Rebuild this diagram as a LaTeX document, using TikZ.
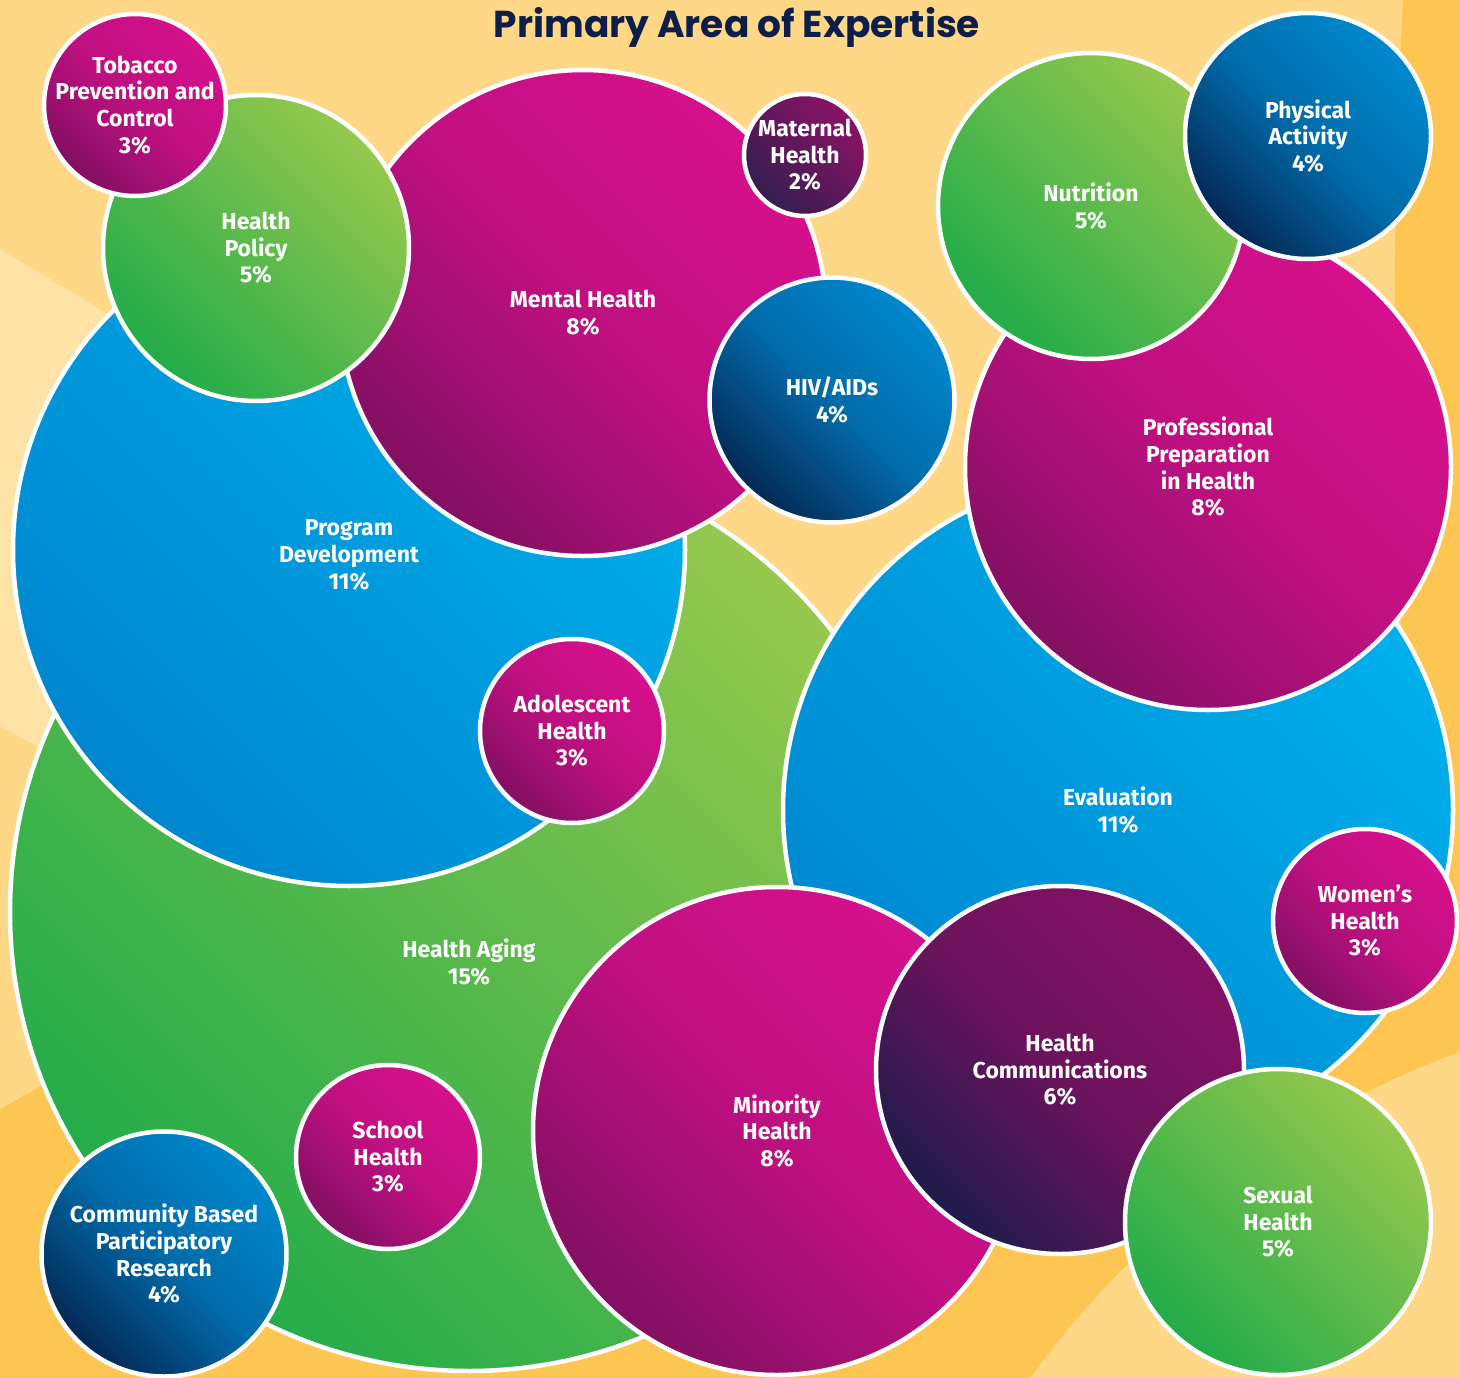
\documentclass[tikz,border=0pt]{standalone}
\usepackage{fontspec}
\usepackage{tikz}
\newfontfamily\bubfont{Fira Sans}
\newfontfamily\headfont{Poppins}
\definecolor{bgmid}{RGB}{254,216,134}
\definecolor{bglight}{RGB}{254,226,166}
\definecolor{bgdark}{RGB}{253,198,83}
\definecolor{magB}{RGB}{214,16,140}
\definecolor{magD}{RGB}{130,16,98}
\definecolor{cyanB}{RGB}{0,176,236}
\definecolor{cyanD}{RGB}{0,134,206}
\definecolor{navyB}{RGB}{0,136,206}
\definecolor{navyD}{RGB}{4,40,84}
\definecolor{grnB}{RGB}{150,200,77}
\definecolor{grnD}{RGB}{34,172,74}
\definecolor{plumB}{RGB}{134,16,100}
\definecolor{plumD}{RGB}{30,28,74}
\definecolor{wineB}{RGB}{140,18,102}
\definecolor{wineD}{RGB}{52,30,80}
\definecolor{titleblue}{RGB}{14,30,74}

\begin{document}
\begin{tikzpicture}[x=1pt,y=-1pt]
\tikzstyle{bubble}=[circle,draw=white,line width=4.5,inner sep=0,outer sep=0]
\tikzstyle{bubble text}=[text=white,align=center,font=\bubfont\fontsize{23}{26.6}\selectfont\bfseries]
\tikzstyle{pink fill}=[top color=magB,bottom color=magD,middle color=magB!72!magD,shading angle=-45]
\tikzstyle{sky fill}=[top color=cyanB,bottom color=cyanD,shading angle=-45]
\tikzstyle{navy fill}=[top color=navyB,bottom color=navyD,middle color=navyB!70!navyD,shading angle=-45]
\tikzstyle{leaf fill}=[top color=grnB,bottom color=grnD,shading angle=-45]
\tikzstyle{plum fill}=[top color=plumB,bottom color=plumD,middle color=plumB!75!plumD,shading angle=-45]
\tikzstyle{wine fill}=[top color=wineB,bottom color=wineD,shading angle=-45]

\useasboundingbox (0,0) rectangle (1460,1378);

% background bands
\begin{scope}
\clip (0,0) rectangle (1460,1378);
\fill[bgmid] (0,0) rectangle (1460,1378);
\fill[bglight] (0,249) -- (600,609) -- (600,1056) -- (0,726) -- cycle;
\fill[bgdark] (772,2396) circle (1500);
\fill[bgdark] (1403,0) .. controls (1390,250) and (1390,600) .. (1420,900) -- (1300,1100) -- (1460,1100) -- (1460,0) -- cycle;
\fill[bgmid] (1780,1920) circle (925);
\end{scope}

% big bubbles first
\node[bubble,leaf fill,minimum size=918,label={[bubble text,yshift=-50]center:{Health Aging\\15\%}}] (aging) at (469,912) {};
\node[bubble,sky fill,minimum size=670,label={[bubble text]center:{Evaluation\\11\%}}] (eval) at (1118,810) {};
\node[bubble,sky fill,minimum size=672,label={[bubble text,yshift=-5]center:{Program\\Development\\11\%}}] (progdev) at (349,550) {};
\node[bubble,pink fill,minimum size=486,label={[bubble text]center:{Mental Health\\8\%}}] (mental) at (583,313) {};
\node[bubble,leaf fill,minimum size=306,label={[bubble text]center:{Health\\Policy\\5\%}}] (policy) at (256,248) {};
\node[bubble,pink fill,minimum size=182,label={[bubble text]center:{Tobacco\\Prevention and\\Control\\3\%}}] (tobacco) at (135,105) {};
\node[bubble,wine fill,minimum size=122,label={[bubble text]center:{Maternal\\Health\\2\%}}] (maternal) at (805,155) {};
\node[bubble,navy fill,minimum size=245,label={[bubble text]center:{HIV/AIDs\\4\%}}] (hiv) at (832,400) {};
\node[bubble,pink fill,minimum size=184,label={[bubble text]center:{Adolescent\\Health\\3\%}}] (adolescent) at (572,731) {};

% right column
\node[bubble,pink fill,minimum size=486,label={[bubble text]center:{Professional\\Preparation\\in Health\\8\%}}] (profprep) at (1208,467) {};
\node[bubble,leaf fill,minimum size=306,label={[bubble text]center:{Nutrition\\5\%}}] (nutrition) at (1091,206) {};
\node[bubble,navy fill,minimum size=246,label={[bubble text]center:{Physical\\Activity\\4\%}}] (physical) at (1308,136) {};
\node[bubble,pink fill,minimum size=184,label={[bubble text]center:{Women’s\\Health\\3\%}}] (womens) at (1365,921) {};

% bottom row
\node[bubble,pink fill,minimum size=488,label={[bubble text]center:{Minority\\Health\\8\%}}] (minority) at (777,1131) {};
\node[bubble,plum fill,minimum size=368,label={[bubble text]center:{Health\\Communications\\6\%}}] (healthcomm) at (1060,1070) {};
\node[bubble,leaf fill,minimum size=306,label={[bubble text]center:{Sexual\\Health\\5\%}}] (sexual) at (1278,1222) {};
\node[bubble,pink fill,minimum size=184,label={[bubble text]center:{School\\Health\\3\%}}] (school) at (388,1157) {};
\node[bubble,navy fill,minimum size=245,label={[bubble text]center:{Community Based\\Participatory\\Research\\4\%}}] (community) at (164,1254) {};

% title
\node[anchor=base,text=titleblue,font=\headfont\fontsize{37.5}{42}\selectfont\bfseries] (title) at (737,38) {Primary Area of Expertise};

\end{tikzpicture}
\end{document}
